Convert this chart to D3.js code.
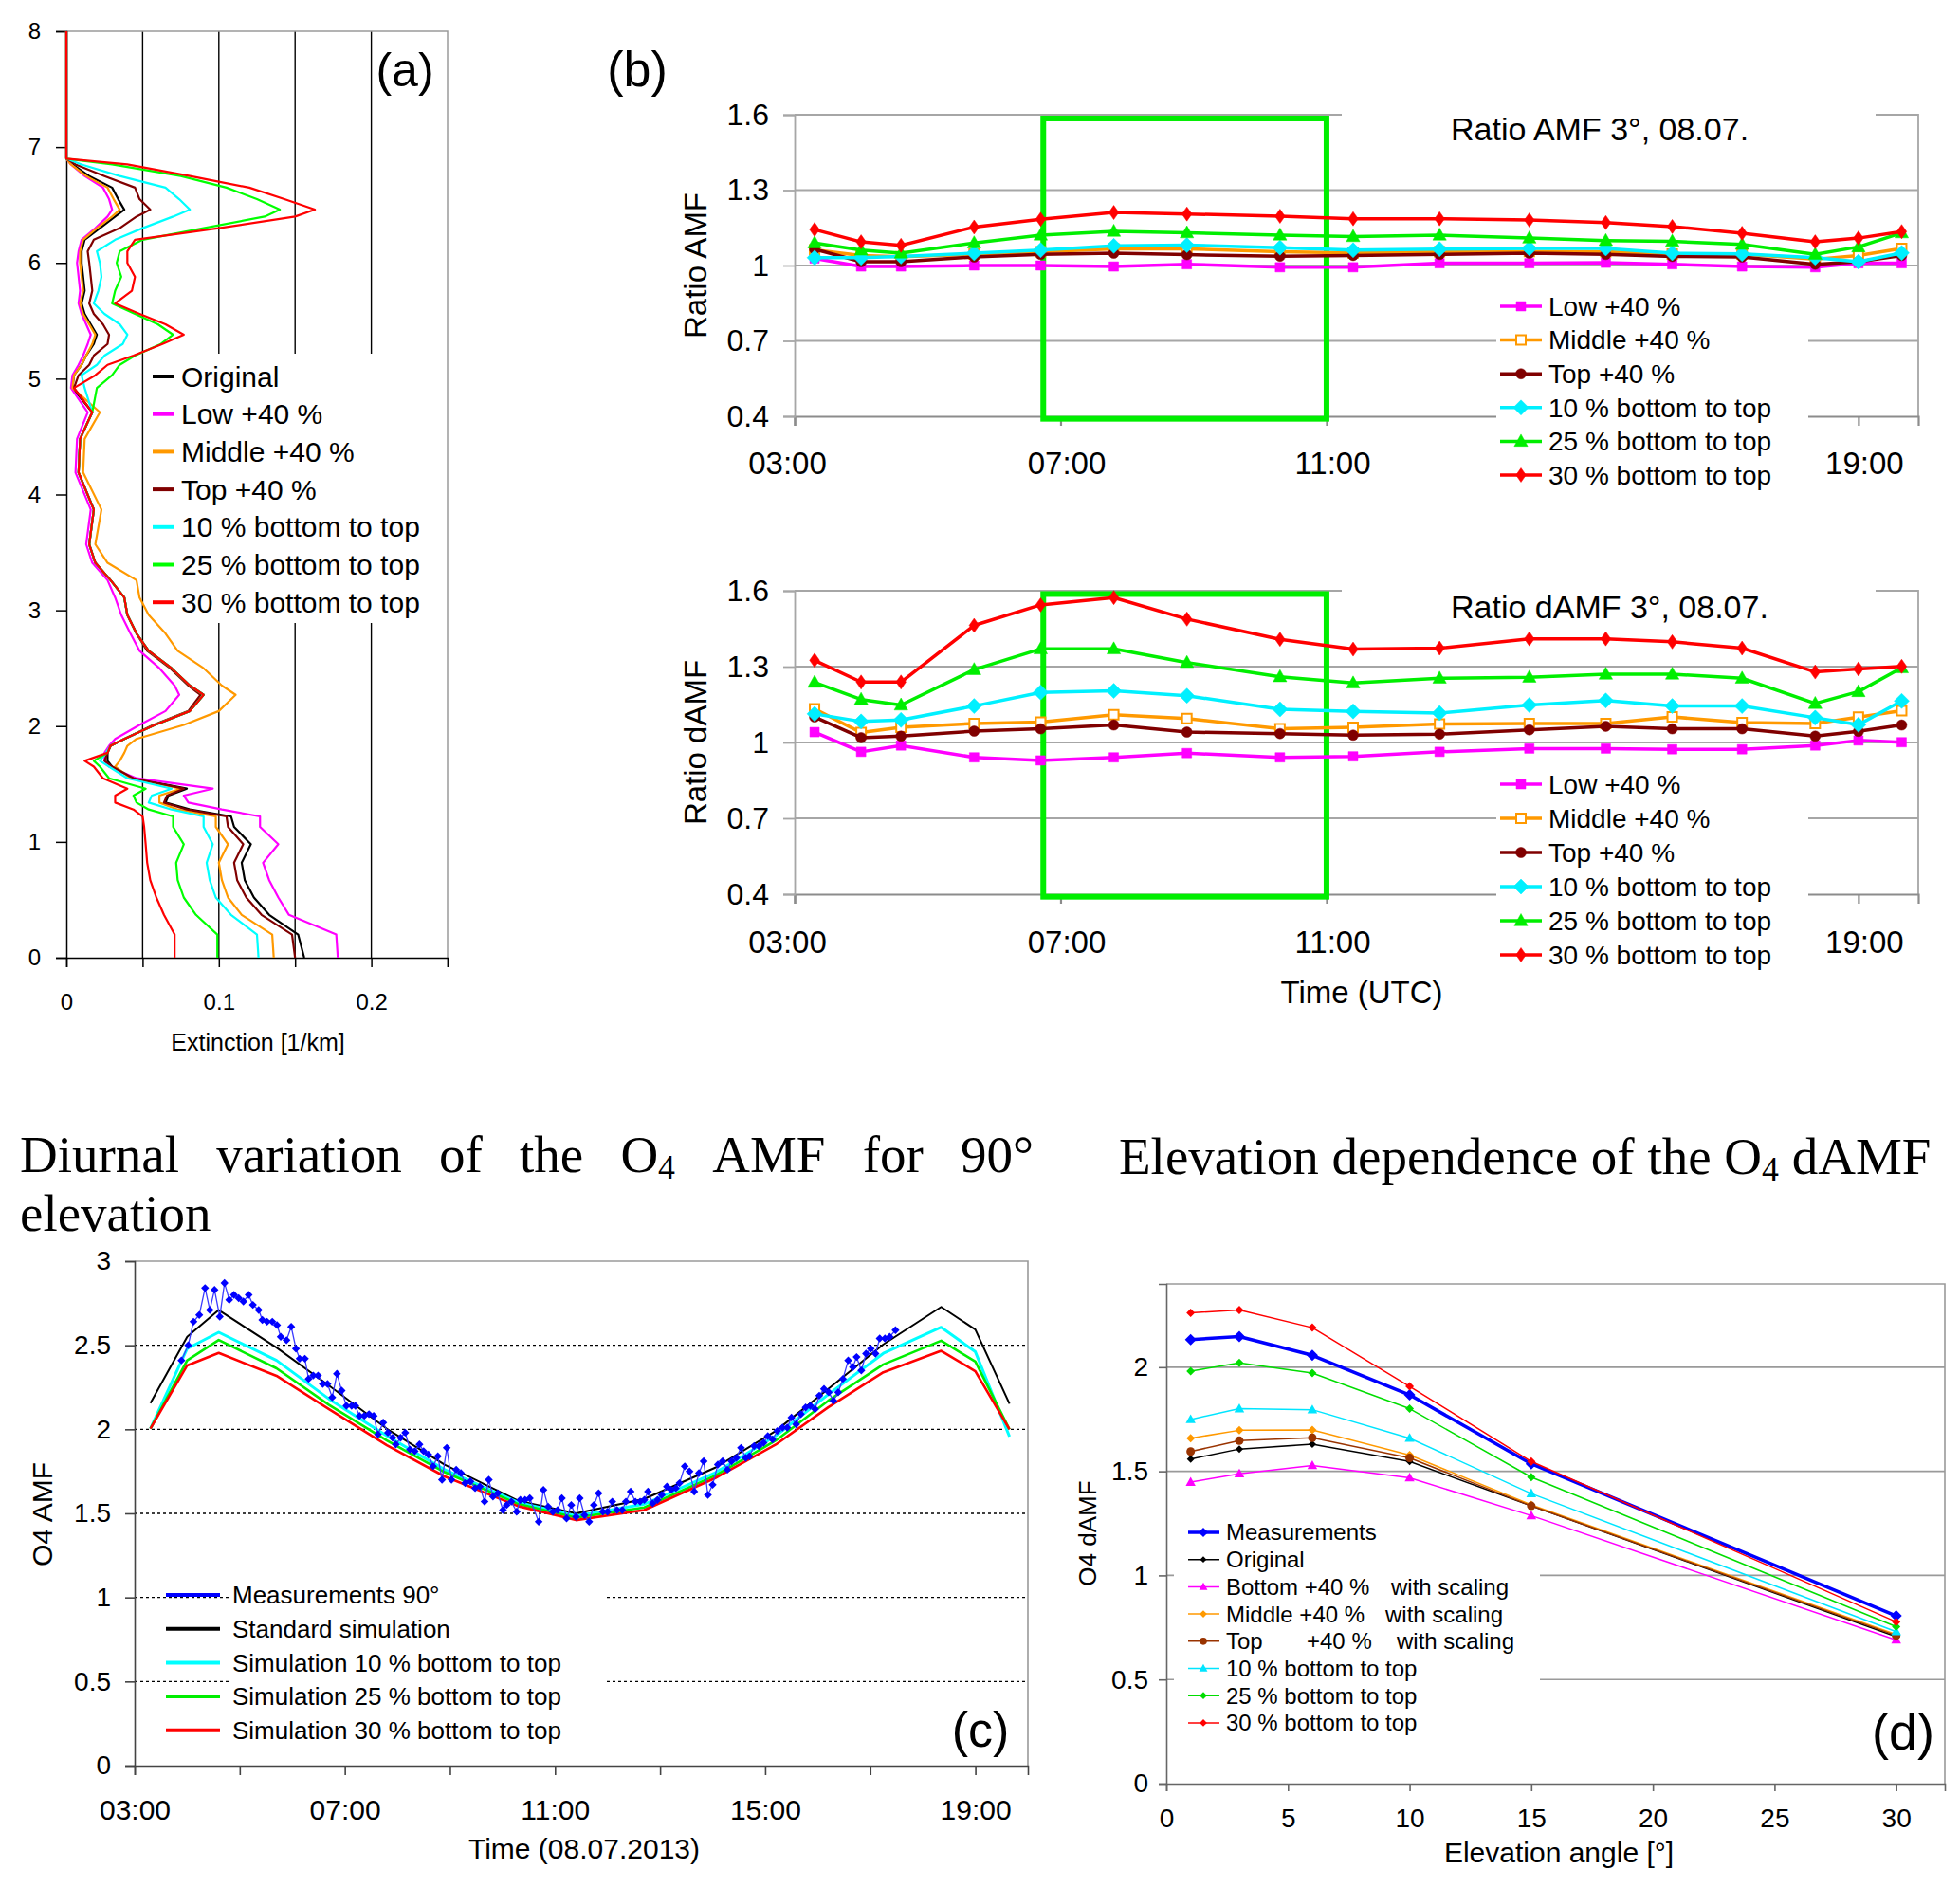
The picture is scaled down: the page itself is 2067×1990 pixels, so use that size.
<!DOCTYPE html>
<html>
<head>
<meta charset="utf-8">
<title>O4 AMF sensitivity</title>
<script src="https://cdn.jsdelivr.net/npm/d3@7"></script>
<style>
  body { margin: 0; background: #fff; }
</style>
</head>
<body>
<svg id="fig" width="2067" height="1990"></svg>
<script>
// ---------- (a) extinction profiles ----------
const altitudeKm = [0, 0.2, 0.37, 0.52, 0.67, 0.82, 0.98, 1.13, 1.22, 1.28, 1.34, 1.40, 1.46, 1.55, 1.65, 1.70, 1.77, 1.83, 1.89, 2.01,
  2.13, 2.27, 2.35, 2.50, 2.65, 2.80, 2.96, 3.11, 3.26, 3.41, 3.57, 3.87, 4.19, 4.48, 4.71, 4.92, 5.03, 5.12, 5.20, 5.30,
  5.38, 5.47, 5.56, 5.65, 5.76, 5.88, 6.00, 6.10, 6.20, 6.30, 6.40, 6.46, 6.55, 6.65, 6.75, 6.85, 6.90, 8.00];
const extOriginal = [0.156, 0.152, 0.133, 0.123, 0.117, 0.115, 0.121, 0.110, 0.108, 0.081, 0.065, 0.067, 0.079, 0.044, 0.030, 0.027, 0.027, 0.029, 0.038, 0.058,
  0.081, 0.090, 0.081, 0.069, 0.054, 0.046, 0.040, 0.038, 0.029, 0.019, 0.015, 0.018, 0.008, 0.009, 0.017, 0.004, 0.005, 0.010, 0.013, 0.018,
  0.020, 0.016, 0.012, 0.010, 0.012, 0.011, 0.010, 0.010, 0.012, 0.022, 0.032, 0.038, 0.034, 0.030, 0.015, 0.004, 0, 0];
const extLow = [0.178, 0.177, 0.146, 0.139, 0.133, 0.129, 0.139, 0.127, 0.127, 0.102, 0.080, 0.077, 0.096, 0.046, 0.028, 0.025, 0.025, 0.028, 0.032, 0.048,
  0.065, 0.074, 0.071, 0.061, 0.048, 0.042, 0.036, 0.032, 0.027, 0.017, 0.013, 0.016, 0.006, 0.007, 0.014, 0.003, 0.004, 0.008, 0.011, 0.014,
  0.016, 0.013, 0.010, 0.008, 0.009, 0.008, 0.007, 0.008, 0.010, 0.019, 0.027, 0.030, 0.028, 0.024, 0.012, 0.003, 0, 0];
const extMiddle = [0.136, 0.135, 0.115, 0.106, 0.102, 0.100, 0.106, 0.098, 0.098, 0.073, 0.061, 0.061, 0.075, 0.042, 0.032, 0.035, 0.038, 0.040, 0.046, 0.077,
  0.100, 0.111, 0.102, 0.090, 0.073, 0.065, 0.054, 0.048, 0.046, 0.027, 0.019, 0.023, 0.011, 0.012, 0.022, 0.004, 0.005, 0.010, 0.013, 0.017,
  0.019, 0.015, 0.011, 0.009, 0.011, 0.010, 0.009, 0.009, 0.011, 0.020, 0.030, 0.035, 0.031, 0.027, 0.013, 0.003, 0, 0];
const extTop = [0.150, 0.148, 0.128, 0.118, 0.112, 0.110, 0.116, 0.106, 0.105, 0.079, 0.064, 0.066, 0.077, 0.044, 0.030, 0.025, 0.027, 0.029, 0.038, 0.057,
  0.080, 0.088, 0.080, 0.068, 0.053, 0.046, 0.040, 0.038, 0.029, 0.019, 0.015, 0.018, 0.008, 0.009, 0.017, 0.005, 0.008, 0.015, 0.018, 0.027,
  0.028, 0.024, 0.018, 0.015, 0.017, 0.016, 0.015, 0.014, 0.018, 0.035, 0.046, 0.055, 0.048, 0.045, 0.025, 0.006, 0, 0];
const ext10 = [0.126, 0.125, 0.108, 0.098, 0.094, 0.092, 0.096, 0.090, 0.090, 0.069, 0.054, 0.056, 0.069, 0.040, 0.028, 0.022, 0.026, 0.029, 0.038, 0.058,
  0.081, 0.090, 0.081, 0.069, 0.054, 0.046, 0.040, 0.038, 0.029, 0.019, 0.015, 0.018, 0.008, 0.009, 0.017, 0.012, 0.010, 0.020, 0.025, 0.037,
  0.040, 0.035, 0.025, 0.018, 0.021, 0.023, 0.022, 0.020, 0.032, 0.050, 0.070, 0.081, 0.074, 0.065, 0.035, 0.010, 0, 0];
const ext25 = [0.099, 0.099, 0.085, 0.077, 0.073, 0.072, 0.077, 0.070, 0.070, 0.054, 0.046, 0.044, 0.052, 0.028, 0.022, 0.018, 0.027, 0.029, 0.038, 0.058,
  0.081, 0.090, 0.081, 0.069, 0.054, 0.046, 0.040, 0.038, 0.029, 0.019, 0.015, 0.018, 0.008, 0.009, 0.017, 0.020, 0.030, 0.035, 0.045, 0.062,
  0.070, 0.060, 0.045, 0.030, 0.032, 0.036, 0.033, 0.035, 0.050, 0.090, 0.130, 0.140, 0.125, 0.105, 0.075, 0.030, 0, 0];
const ext30 = [0.071, 0.071, 0.064, 0.059, 0.055, 0.053, 0.052, 0.051, 0.050, 0.044, 0.032, 0.032, 0.040, 0.024, 0.018, 0.012, 0.027, 0.029, 0.038, 0.058,
  0.081, 0.090, 0.081, 0.069, 0.054, 0.046, 0.040, 0.038, 0.029, 0.019, 0.015, 0.018, 0.008, 0.009, 0.017, 0.005, 0.019, 0.027, 0.044, 0.063,
  0.077, 0.065, 0.048, 0.032, 0.043, 0.045, 0.040, 0.040, 0.045, 0.100, 0.150, 0.163, 0.143, 0.120, 0.081, 0.040, 0, 0];

// ---------- (b) ratios at 3 deg elevation ----------
const simTimes = [3.3, 4.0, 4.6, 5.7, 6.7, 7.8, 8.9, 10.3, 11.4, 12.7, 14.05, 15.2, 16.2, 17.25, 18.35, 19.0, 19.65];
const amfLow    = [1.028, 0.996, 0.996, 1.000, 1.000, 0.996, 1.005, 0.993, 0.993, 1.009, 1.009, 1.011, 1.005, 0.996, 0.993, 1.009, 1.009];
const amfMiddle = [1.062, 1.040, 1.035, 1.045, 1.055, 1.066, 1.066, 1.055, 1.050, 1.055, 1.056, 1.055, 1.045, 1.045, 1.025, 1.040, 1.068];
const amfTop    = [1.065, 1.015, 1.015, 1.034, 1.044, 1.049, 1.043, 1.037, 1.040, 1.044, 1.049, 1.044, 1.036, 1.034, 1.005, 1.015, 1.040];
const amf10     = [1.031, 1.031, 1.036, 1.049, 1.061, 1.078, 1.081, 1.071, 1.061, 1.065, 1.068, 1.068, 1.049, 1.046, 1.031, 1.015, 1.050];
const amf25     = [1.090, 1.061, 1.049, 1.090, 1.121, 1.136, 1.130, 1.121, 1.115, 1.121, 1.109, 1.099, 1.096, 1.084, 1.044, 1.074, 1.130];
const amf30     = [1.143, 1.094, 1.080, 1.153, 1.184, 1.211, 1.205, 1.196, 1.186, 1.186, 1.181, 1.171, 1.155, 1.128, 1.094, 1.109, 1.135];
const damfLow    = [1.041, 0.963, 0.988, 0.941, 0.929, 0.941, 0.958, 0.941, 0.945, 0.963, 0.976, 0.976, 0.973, 0.973, 0.988, 1.008, 1.001];
const damfMiddle = [1.133, 1.039, 1.060, 1.075, 1.081, 1.110, 1.095, 1.054, 1.060, 1.073, 1.075, 1.075, 1.101, 1.079, 1.075, 1.100, 1.126];
const damfTop    = [1.101, 1.019, 1.025, 1.045, 1.054, 1.069, 1.041, 1.035, 1.029, 1.033, 1.050, 1.064, 1.054, 1.054, 1.025, 1.044, 1.069];
const damf10     = [1.113, 1.083, 1.089, 1.144, 1.198, 1.204, 1.185, 1.131, 1.123, 1.116, 1.148, 1.166, 1.144, 1.144, 1.098, 1.070, 1.164];
const damf25     = [1.238, 1.170, 1.148, 1.288, 1.370, 1.370, 1.316, 1.260, 1.235, 1.254, 1.258, 1.270, 1.270, 1.254, 1.154, 1.201, 1.295];
const damf30     = [1.325, 1.239, 1.239, 1.463, 1.544, 1.573, 1.488, 1.408, 1.369, 1.373, 1.410, 1.410, 1.398, 1.373, 1.279, 1.291, 1.301];

// ---------- (c) O4 AMF at 90 deg ----------
const zenStandard = [2.156, 2.550, 2.709, 2.486, 2.260, 2.003, 1.790, 1.575, 1.500, 1.586, 1.772, 1.990, 2.240, 2.505, 2.728, 2.593, 2.152];
const zenSim10    = [2.004, 2.480, 2.577, 2.410, 2.180, 1.961, 1.760, 1.565, 1.485, 1.555, 1.742, 1.961, 2.207, 2.452, 2.607, 2.461, 1.957];
const zenSim25    = [2.004, 2.410, 2.531, 2.363, 2.145, 1.933, 1.745, 1.556, 1.475, 1.535, 1.725, 1.933, 2.170, 2.386, 2.527, 2.403, 2.000];
const zenSim30    = [2.004, 2.380, 2.454, 2.318, 2.120, 1.905, 1.720, 1.543, 1.460, 1.520, 1.710, 1.909, 2.131, 2.339, 2.467, 2.345, 2.000];
const measTimes = [3.89, 4.02, 4.12, 4.23, 4.34, 4.43, 4.52, 4.62, 4.71, 4.80, 4.89, 4.98, 5.07, 5.17, 5.25, 5.36, 5.43, 5.52, 5.62, 5.71,
  5.78, 5.89, 5.98, 6.07, 6.14, 6.24, 6.31, 6.40, 6.49, 6.58, 6.67, 6.76, 6.85, 6.94, 7.03, 7.13, 7.20, 7.28, 7.37, 7.46,
  7.55, 7.63, 7.73, 7.82, 7.91, 7.97, 8.06, 8.15, 8.24, 8.33, 8.42, 8.50, 8.59, 8.68, 8.77, 8.85, 8.94, 9.03, 9.12, 9.21,
  9.29, 9.39, 9.48, 9.57, 9.66, 9.74, 9.82, 9.91, 10.01, 10.08, 10.17, 10.27, 10.34, 10.43, 10.52, 10.69, 10.78, 10.87, 10.96, 11.05,
  11.13, 11.22, 11.31, 11.40, 11.47, 11.56, 11.65, 11.74, 11.83, 11.91, 12.00, 12.09, 12.18, 12.28, 12.35, 12.44, 12.53, 12.62, 12.70, 12.77,
  12.86, 12.95, 13.03, 13.13, 13.21, 13.30, 13.37, 13.47, 13.56, 13.65, 13.74, 13.83, 13.91, 14.00, 14.10, 14.19, 14.28, 14.36, 14.45, 14.54,
  14.63, 14.70, 14.79, 14.88, 14.97, 15.05, 15.14, 15.23, 15.33, 15.42, 15.50, 15.59, 15.68, 15.77, 15.86, 15.95, 16.03, 16.12, 16.21, 16.30,
  16.39, 16.48, 16.58, 16.67, 16.74, 16.83, 16.92, 17.01, 17.10, 17.18, 17.28, 17.37, 17.48];
const measAmf = [2.41, 2.50, 2.64, 2.68, 2.84, 2.71, 2.83, 2.67, 2.87, 2.77, 2.80, 2.78, 2.76, 2.80, 2.74, 2.71, 2.65, 2.64, 2.64, 2.62,
  2.55, 2.53, 2.61, 2.48, 2.42, 2.42, 2.30, 2.32, 2.32, 2.27, 2.27, 2.19, 2.33, 2.23, 2.14, 2.14, 2.14, 2.08, 2.08, 2.09,
  2.08, 1.97, 2.04, 1.98, 1.95, 1.91, 1.95, 1.98, 1.88, 1.87, 1.91, 1.87, 1.85, 1.78, 1.84, 1.70, 1.89, 1.70, 1.76, 1.74,
  1.68, 1.69, 1.65, 1.66, 1.57, 1.70, 1.60, 1.62, 1.52, 1.55, 1.57, 1.51, 1.58, 1.58, 1.59, 1.45, 1.64, 1.54, 1.51, 1.52,
  1.59, 1.47, 1.55, 1.48, 1.59, 1.49, 1.45, 1.55, 1.62, 1.51, 1.51, 1.57, 1.52, 1.52, 1.57, 1.63, 1.57, 1.57, 1.58, 1.63,
  1.56, 1.58, 1.61, 1.66, 1.64, 1.65, 1.68, 1.78, 1.75, 1.63, 1.74, 1.81, 1.61, 1.67, 1.79, 1.81, 1.76, 1.81, 1.83, 1.89,
  1.83, 1.84, 1.90, 1.90, 1.92, 1.96, 1.94, 1.99, 2.01, 2.01, 2.07, 2.03, 2.09, 2.13, 2.14, 2.12, 2.20, 2.24, 2.22, 2.17,
  2.22, 2.30, 2.41, 2.37, 2.43, 2.35, 2.45, 2.48, 2.45, 2.54, 2.54, 2.55, 2.59];

// ---------- (d) dAMF vs elevation ----------
const elevAngles = [1, 3, 6, 10, 15, 30];
const dMeas     = [2.133, 2.147, 2.057, 1.867, 1.536, 0.806];
const dOriginal = [1.559, 1.607, 1.630, 1.547, 1.334, 0.706];
const dBottom   = [1.448, 1.488, 1.528, 1.469, 1.287, 0.690];
const dMiddle   = [1.659, 1.697, 1.699, 1.578, 1.339, 0.716];
const dTop      = [1.595, 1.647, 1.661, 1.564, 1.334, 0.711];
const d10       = [1.749, 1.801, 1.796, 1.659, 1.393, 0.730];
const d25       = [1.981, 2.021, 1.972, 1.801, 1.472, 0.754];
const d30       = [2.261, 2.275, 2.190, 1.908, 1.547, 0.777];

const SANS = '"Liberation Sans", Arial, sans-serif';
const SERIF = '"Liberation Serif", "Times New Roman", serif';

const svg = d3.select("#fig");
svg.append("rect").attr("width", 2067).attr("height", 1990).attr("fill", "#fff");

function styleAxis(g, size, color, width) {
  g.attr("font-family", SANS).attr("font-size", size);
  g.select(".domain").attr("stroke", color).attr("stroke-width", width);
  g.selectAll(".tick line").attr("stroke", color).attr("stroke-width", width);
  g.selectAll(".tick text").attr("fill", "#000");
}

function markerPath(kind, r) {
  if (kind === "square") return `M${-r},${-r}H${r}V${r}H${-r}Z`;
  if (kind === "rhomb") return `M0,${-r}L${r},0L0,${r}L${-r},0Z`;
  if (kind === "narrow") return `M0,${-r}L${r * 0.7},0L0,${r}L${-r * 0.7},0Z`;
  if (kind === "triangle") return `M0,${-r}L${r * 0.95},${r * 0.7}L${-r * 0.95},${r * 0.7}Z`;
  return d3.symbol(d3.symbolCircle, Math.PI * r * r)();
}

const hourFmt = h => String(h).padStart(2, "0") + ":00";

function label(g, txt, x, y, size, anchor) {
  return g.append("text").attr("x", x).attr("y", y).attr("font-family", SANS)
    .attr("font-size", size).attr("text-anchor", anchor || "start").text(txt);
}

// =================== panel (a) ===================
const pa = svg.append("g");
const xA = d3.scaleLinear().domain([0, 0.25]).range([70, 472]);
const yA = d3.scaleLinear().domain([0, 8]).range([1010, 33]);

pa.selectAll(null).data([0.05, 0.1, 0.15, 0.2]).join("line")
  .attr("x1", d => xA(d)).attr("x2", d => xA(d)).attr("y1", yA(8)).attr("y2", yA(0))
  .attr("stroke", "#000").attr("stroke-width", 1.4);
pa.append("path").attr("d", `M${xA(0)},${yA(8)}H${xA(0.25)}V${yA(0)}`)
  .attr("fill", "none").attr("stroke", "#9a9a9a").attr("stroke-width", 1.5);

const axAy = pa.append("g").attr("transform", `translate(${xA(0)},0)`)
  .call(d3.axisLeft(yA).tickValues(d3.range(0, 9)).tickSize(11).tickPadding(16).tickFormat(d3.format("d")));
styleAxis(axAy, 24, "#000", 1.5);
const axAx = pa.append("g").attr("transform", `translate(0,${yA(0)})`)
  .call(d3.axisBottom(xA).tickValues(d3.range(0, 0.2501, 0.05)).tickSize(10).tickPadding(28)
    .tickFormat(d => Math.abs(d * 10 - Math.round(d * 10)) < 1e-6 ? String(Math.round(d * 10) / 10) : ""));
styleAxis(axAx, 24, "#000", 1.5);
label(pa, "Extinction [1/km]", 272, 1108, 25, "middle");

pa.append("rect").attr("x", 153).attr("y", 373).attr("width", 315).attr("height", 284).attr("fill", "#fff");

const profiles = [
  { label: "Original", color: "#000000", values: extOriginal },
  { label: "Low +40 %", color: "#ff00ff", values: extLow },
  { label: "Middle +40 %", color: "#ff9900", values: extMiddle },
  { label: "Top +40 %", color: "#800000", values: extTop },
  { label: "10 % bottom to top", color: "#00ffff", values: ext10 },
  { label: "25 % bottom to top", color: "#00ff00", values: ext25 },
  { label: "30 % bottom to top", color: "#ff0000", values: ext30 }
];
const lineA = d3.line().x(d => xA(d[1])).y(d => yA(d[0]));
profiles.forEach(p => {
  pa.append("path").datum(d3.zip(altitudeKm, p.values)).attr("d", lineA)
    .attr("fill", "none").attr("stroke", p.color).attr("stroke-width", 2.2).attr("stroke-linejoin", "round");
});
profiles.forEach((p, i) => {
  const y = 397 + i * 39.7;
  pa.append("line").attr("x1", 161).attr("x2", 184).attr("y1", y).attr("y2", y).attr("stroke", p.color).attr("stroke-width", 4);
  label(pa, p.label, 191, y, 30).attr("dy", "0.35em");
});
label(pa, "(a)", 427, 91, 50, "middle");

// =================== panel (b) ===================
const ratioMeta = [
  { label: "Low +40 %", color: "#ff00ff", mark: "square", r: 5, fill: "#ff00ff" },
  { label: "Middle +40 %", color: "#ff9900", mark: "square", r: 5, fill: "#ffffff" },
  { label: "Top +40 %", color: "#800000", mark: "circle", r: 5.5, fill: "#800000" },
  { label: "10 % bottom to top", color: "#00f0ff", mark: "rhomb", r: 8, fill: "#00f0ff" },
  { label: "25 % bottom to top", color: "#00ee00", mark: "triangle", r: 7.5, fill: "#00ee00" },
  { label: "30 % bottom to top", color: "#ff0000", mark: "narrow", r: 7.5, fill: "#ff0000" }
];
const xB = d3.scaleLinear().domain([3, 19.9]).range([838, 2023]);

function drawRatio(cfg) {
  const g = svg.append("g");
  const y = d3.scaleLinear().domain([0.4, 1.6]).range([cfg.bottom, cfg.top]);
  g.selectAll(null).data([0.7, 1.0, 1.3]).join("line")
    .attr("x1", xB(3)).attr("x2", xB(19.9)).attr("y1", d => y(d)).attr("y2", d => y(d))
    .attr("stroke", "#a6a6a6").attr("stroke-width", 1.8);
  g.append("path").attr("d", `M${xB(3)},${y(1.6)}H${xB(19.9)}V${y(0.4)}`)
    .attr("fill", "none").attr("stroke", "#a6a6a6").attr("stroke-width", 1.8);
  // the 15:00 position sits under the legend box, so it carries no label
  const ax = g.append("g").attr("transform", `translate(0,${y(0.4)})`)
    .call(d3.axisBottom(xB).tickValues([3, 7, 11, 19]).tickSize(10).tickPadding(cfg.xPad).tickFormat(hourFmt));
  styleAxis(ax, 33, "#8c8c8c", 2.2);
  ax.selectAll(".tick text").attr("dx", d => d === 3 ? -8 : 6);
  const ay = g.append("g").attr("transform", `translate(${xB(3)},0)`)
    .call(d3.axisLeft(y).tickValues([0.4, 0.7, 1, 1.3, 1.6]).tickSize(12).tickPadding(15).tickFormat(d3.format("")));
  styleAxis(ay, 32, "#a6a6a6", 1.8);

  g.append("rect").attr("x", 1415).attr("y", y(1.6) - 14).attr("width", 563).attr("height", 60).attr("fill", "#fff");
  label(g, cfg.title, 1530, cfg.titleBase, 34);

  g.append("rect").attr("x", xB(6.74)).attr("y", y(cfg.boxTop))
    .attr("width", xB(11.0) - xB(6.74)).attr("height", y(0.39) - y(cfg.boxTop))
    .attr("fill", "none").attr("stroke", "#00ee00").attr("stroke-width", 6);

  const line = d3.line().x(d => xB(d[0])).y(d => y(d[1]));
  ratioMeta.forEach((m, i) => {
    const pts = d3.zip(simTimes, cfg.values[i]);
    g.append("path").datum(pts).attr("d", line).attr("fill", "none")
      .attr("stroke", m.color).attr("stroke-width", 3.5).attr("stroke-linejoin", "round");
    g.selectAll(null).data(pts).join("path").attr("d", markerPath(m.mark, m.r))
      .attr("transform", d => `translate(${xB(d[0])},${y(d[1])})`)
      .attr("fill", m.fill).attr("stroke", m.color).attr("stroke-width", m.fill === "#ffffff" ? 2 : 0.5);
  });

  g.append("rect").attr("x", 1578).attr("y", cfg.legendTop - 18).attr("width", 329)
    .attr("height", cfg.legendStep * 5 + 38).attr("fill", "#fff");
  ratioMeta.forEach((m, i) => {
    const ly = cfg.legendTop + i * cfg.legendStep;
    g.append("line").attr("x1", 1582).attr("x2", 1626).attr("y1", ly).attr("y2", ly).attr("stroke", m.color).attr("stroke-width", 3.5);
    g.append("path").attr("d", markerPath(m.mark, m.r)).attr("transform", `translate(1604,${ly})`)
      .attr("fill", m.fill).attr("stroke", m.color).attr("stroke-width", m.fill === "#ffffff" ? 2 : 0.5);
    label(g, m.label, 1633, ly, 28).attr("dy", "0.35em");
  });

  label(g, cfg.yTitle, 0, 0, 33, "middle")
    .attr("transform", `translate(733,${(cfg.top + cfg.bottom) / 2}) rotate(-90)`).attr("dy", "0.35em");
  return g;
}

drawRatio({ top: 121, bottom: 439, xPad: 28, title: "Ratio AMF 3°, 08.07.", titleBase: 148, boxTop: 1.585,
  values: [amfLow, amfMiddle, amfTop, amf10, amf25, amf30], legendTop: 323, legendStep: 35.6, yTitle: "Ratio AMF" });
const gb2 = drawRatio({ top: 623, bottom: 943, xPad: 29, title: "Ratio dAMF 3°, 08.07.", titleBase: 652, boxTop: 1.587,
  values: [damfLow, damfMiddle, damfTop, damf10, damf25, damf30], legendTop: 827, legendStep: 36, yTitle: "Ratio dAMF" });
label(gb2, "Time (UTC)", 1436, 1058, 33, "middle");
label(svg, "(b)", 672, 91, 52, "middle");

// =================== headings ===================
function serifWord(g, x, y, size, parts) {
  const t = g.append("text").attr("x", x).attr("y", y).attr("font-family", SERIF).attr("font-size", size).attr("fill", "#000");
  t.append("tspan").text(parts[0]);
  if (parts[1]) t.append("tspan").attr("font-size", size * 0.65).attr("dy", size * 0.12).text(parts[1]);
  if (parts[2]) t.append("tspan").attr("dy", -size * 0.12).text(parts[2]);
  return t;
}
const headC1 = [["Diurnal"], ["variation"], ["of"], ["the"], ["O", "4"], ["AMF"], ["for"], ["90°"]];
const hg = svg.append("g");
const words = headC1.map(w => serifWord(hg, 0, 1236, 55, w));
const widths = words.map(t => t.node().getComputedTextLength());
const gap = (1090 - 21 - d3.sum(widths)) / (words.length - 1);
let wx = 21;
words.forEach((t, i) => { t.attr("x", wx); wx += widths[i] + gap; });
serifWord(hg, 21, 1298, 55, ["elevation"]);
serifWord(hg, 1180, 1238, 55, ["Elevation dependence of the O", "4", " dAMF"]);

// =================== panel (c) ===================
const pc = svg.append("g");
const xC = d3.scaleLinear().domain([3, 20]).range([142, 1084]);
const yC = d3.scaleLinear().domain([0, 3]).range([1862, 1330]);
pc.selectAll(null).data([0.5, 1, 1.5, 2, 2.5]).join("line")
  .attr("x1", xC(3)).attr("x2", xC(20)).attr("y1", d => yC(d)).attr("y2", d => yC(d))
  .attr("stroke", "#000").attr("stroke-width", 1.3).attr("stroke-dasharray", "3,3");
pc.append("path").attr("d", `M${xC(3)},${yC(3)}H${xC(20)}V${yC(0)}`)
  .attr("fill", "none").attr("stroke", "#9a9a9a").attr("stroke-width", 1.6);
const axCy = pc.append("g").attr("transform", `translate(${xC(3)},0)`)
  .call(d3.axisLeft(yC).tickValues(d3.range(0, 3.01, 0.5)).tickSize(10).tickPadding(15).tickFormat(d3.format("")));
styleAxis(axCy, 28, "#444", 1.6);
const axCx = pc.append("g").attr("transform", `translate(0,${yC(0)})`)
  .call(d3.axisBottom(xC).tickValues(d3.range(3, 20, 2)).tickSize(10).tickPadding(26)
    .tickFormat(d => (d - 3) % 4 === 0 ? hourFmt(d) : ""));
styleAxis(axCx, 30, "#444", 1.6);
label(pc, "Time (08.07.2013)", 616, 1960, 30, "middle");
label(pc, "O4 AMF", 0, 0, 30, "middle").attr("transform", "translate(44,1597) rotate(-90)").attr("dy", "0.35em");

pc.append("rect").attr("x", 242).attr("y", 1664).attr("width", 397).attr("height", 180).attr("fill", "#fff");

const zenMeta = [
  { label: "Standard simulation", color: "#000000", width: 2, values: zenStandard },
  { label: "Simulation 10 % bottom to top", color: "#00ffff", width: 3, values: zenSim10 },
  { label: "Simulation 25 % bottom to top", color: "#00ee00", width: 2.6, values: zenSim25 },
  { label: "Simulation 30 % bottom to top", color: "#ff0000", width: 2.6, values: zenSim30 }
];
const lineC = d3.line().x(d => xC(d[0])).y(d => yC(d[1]));
zenMeta.forEach(m => {
  pc.append("path").datum(d3.zip(simTimes, m.values)).attr("d", lineC)
    .attr("fill", "none").attr("stroke", m.color).attr("stroke-width", m.width).attr("stroke-linejoin", "round");
});
const measPts = d3.zip(measTimes, measAmf);
pc.append("path").datum(measPts).attr("d", lineC).attr("fill", "none").attr("stroke", "#3b3bff").attr("stroke-width", 1.3);
pc.selectAll(null).data(measPts).join("path").attr("d", markerPath("rhomb", 4.2))
  .attr("transform", d => `translate(${xC(d[0])},${yC(d[1])})`).attr("fill", "#0000ff");

const zenLegend = [{ label: "Measurements 90°", color: "#0000ff" }].concat(zenMeta);
zenLegend.forEach((m, i) => {
  const ly = 1682 + i * 35.7;
  pc.append("line").attr("x1", 175).attr("x2", 232).attr("y1", ly).attr("y2", ly).attr("stroke", m.color).attr("stroke-width", 4);
  label(pc, m.label, 245, ly, 26).attr("dy", "0.35em");
});
label(pc, "(c)", 1034, 1842, 52, "middle");

// =================== panel (d) ===================
const pd = svg.append("g");
const xD = d3.scaleLinear().domain([0, 32]).range([1230, 2051]);
const yD = d3.scaleLinear().domain([0, 2.4]).range([1881, 1354]);
pd.selectAll(null).data([0.5, 1, 1.5, 2]).join("line")
  .attr("x1", xD(0)).attr("x2", xD(32)).attr("y1", d => yD(d)).attr("y2", d => yD(d))
  .attr("stroke", "#9a9a9a").attr("stroke-width", 1.6);
pd.append("path").attr("d", `M${xD(0)},${yD(2.4)}H${xD(32)}V${yD(0)}`)
  .attr("fill", "none").attr("stroke", "#9a9a9a").attr("stroke-width", 1.6);
const axDy = pd.append("g").attr("transform", `translate(${xD(0)},0)`)
  .call(d3.axisLeft(yD).tickValues([0, 0.5, 1, 1.5, 2]).tickSize(8).tickPadding(11).tickFormat(d3.format("")));
styleAxis(axDy, 28, "#666", 1.6);
const axDx = pd.append("g").attr("transform", `translate(0,${yD(0)})`)
  .call(d3.axisBottom(xD).tickValues(d3.range(0, 31, 5)).tickSize(8).tickPadding(18).tickFormat(d3.format("d")));
styleAxis(axDx, 28, "#666", 1.6);
label(pd, "Elevation angle [°]", 1644, 1964, 30, "middle");
label(pd, "O4 dAMF", 0, 0, 26, "middle").attr("transform", "translate(1147,1617) rotate(-90)").attr("dy", "0.35em");

pd.append("rect").attr("x", 1238).attr("y", 1598).attr("width", 386).attr("height", 234).attr("fill", "#fff");

const elevMeta = [
  { parts: [["Measurements", 0]], color: "#0000ff", mark: "rhomb", r: 6, width: 3.5, values: dMeas },
  { parts: [["Original", 0]], color: "#000000", mark: "rhomb", r: 4, width: 1.5, values: dOriginal },
  { parts: [["Bottom +40 %", 0], ["with scaling", 174]], color: "#ff00ff", mark: "triangle", r: 5.5, width: 1.5, values: dBottom },
  { parts: [["Middle +40 %", 0], ["with scaling", 168]], color: "#ff9900", mark: "rhomb", r: 4.5, width: 1.5, values: dMiddle },
  { parts: [["Top", 0], ["+40 %", 85], ["with scaling", 180]], color: "#993300", mark: "circle", r: 4.5, width: 1.5, values: dTop },
  { parts: [["10 % bottom to top", 0]], color: "#00e5ff", mark: "triangle", r: 5.5, width: 1.5, values: d10 },
  { parts: [["25 % bottom to top", 0]], color: "#00dd00", mark: "rhomb", r: 4.5, width: 1.5, values: d25 },
  { parts: [["30 % bottom to top", 0]], color: "#ff0000", mark: "rhomb", r: 4.5, width: 1.5, values: d30 }
];
const lineD = d3.line().x(d => xD(d[0])).y(d => yD(d[1]));
elevMeta.forEach(m => {
  const pts = d3.zip(elevAngles, m.values);
  pd.append("path").datum(pts).attr("d", lineD).attr("fill", "none")
    .attr("stroke", m.color).attr("stroke-width", m.width).attr("stroke-linejoin", "round");
  pd.selectAll(null).data(pts).join("path").attr("d", markerPath(m.mark, m.r))
    .attr("transform", d => `translate(${xD(d[0])},${yD(d[1])})`).attr("fill", m.color);
});
elevMeta.forEach((m, i) => {
  const ly = 1616 + i * 28.7;
  pd.append("line").attr("x1", 1253).attr("x2", 1286).attr("y1", ly).attr("y2", ly)
    .attr("stroke", m.color).attr("stroke-width", m.width);
  pd.append("path").attr("d", markerPath(m.mark, m.r * 0.85)).attr("transform", `translate(1269,${ly})`).attr("fill", m.color);
  m.parts.forEach(p => label(pd, p[0], 1293 + p[1], ly, 24).attr("dy", "0.35em"));
});
label(pd, "(d)", 2007, 1845, 54, "middle");
</script>
</body>
</html>
